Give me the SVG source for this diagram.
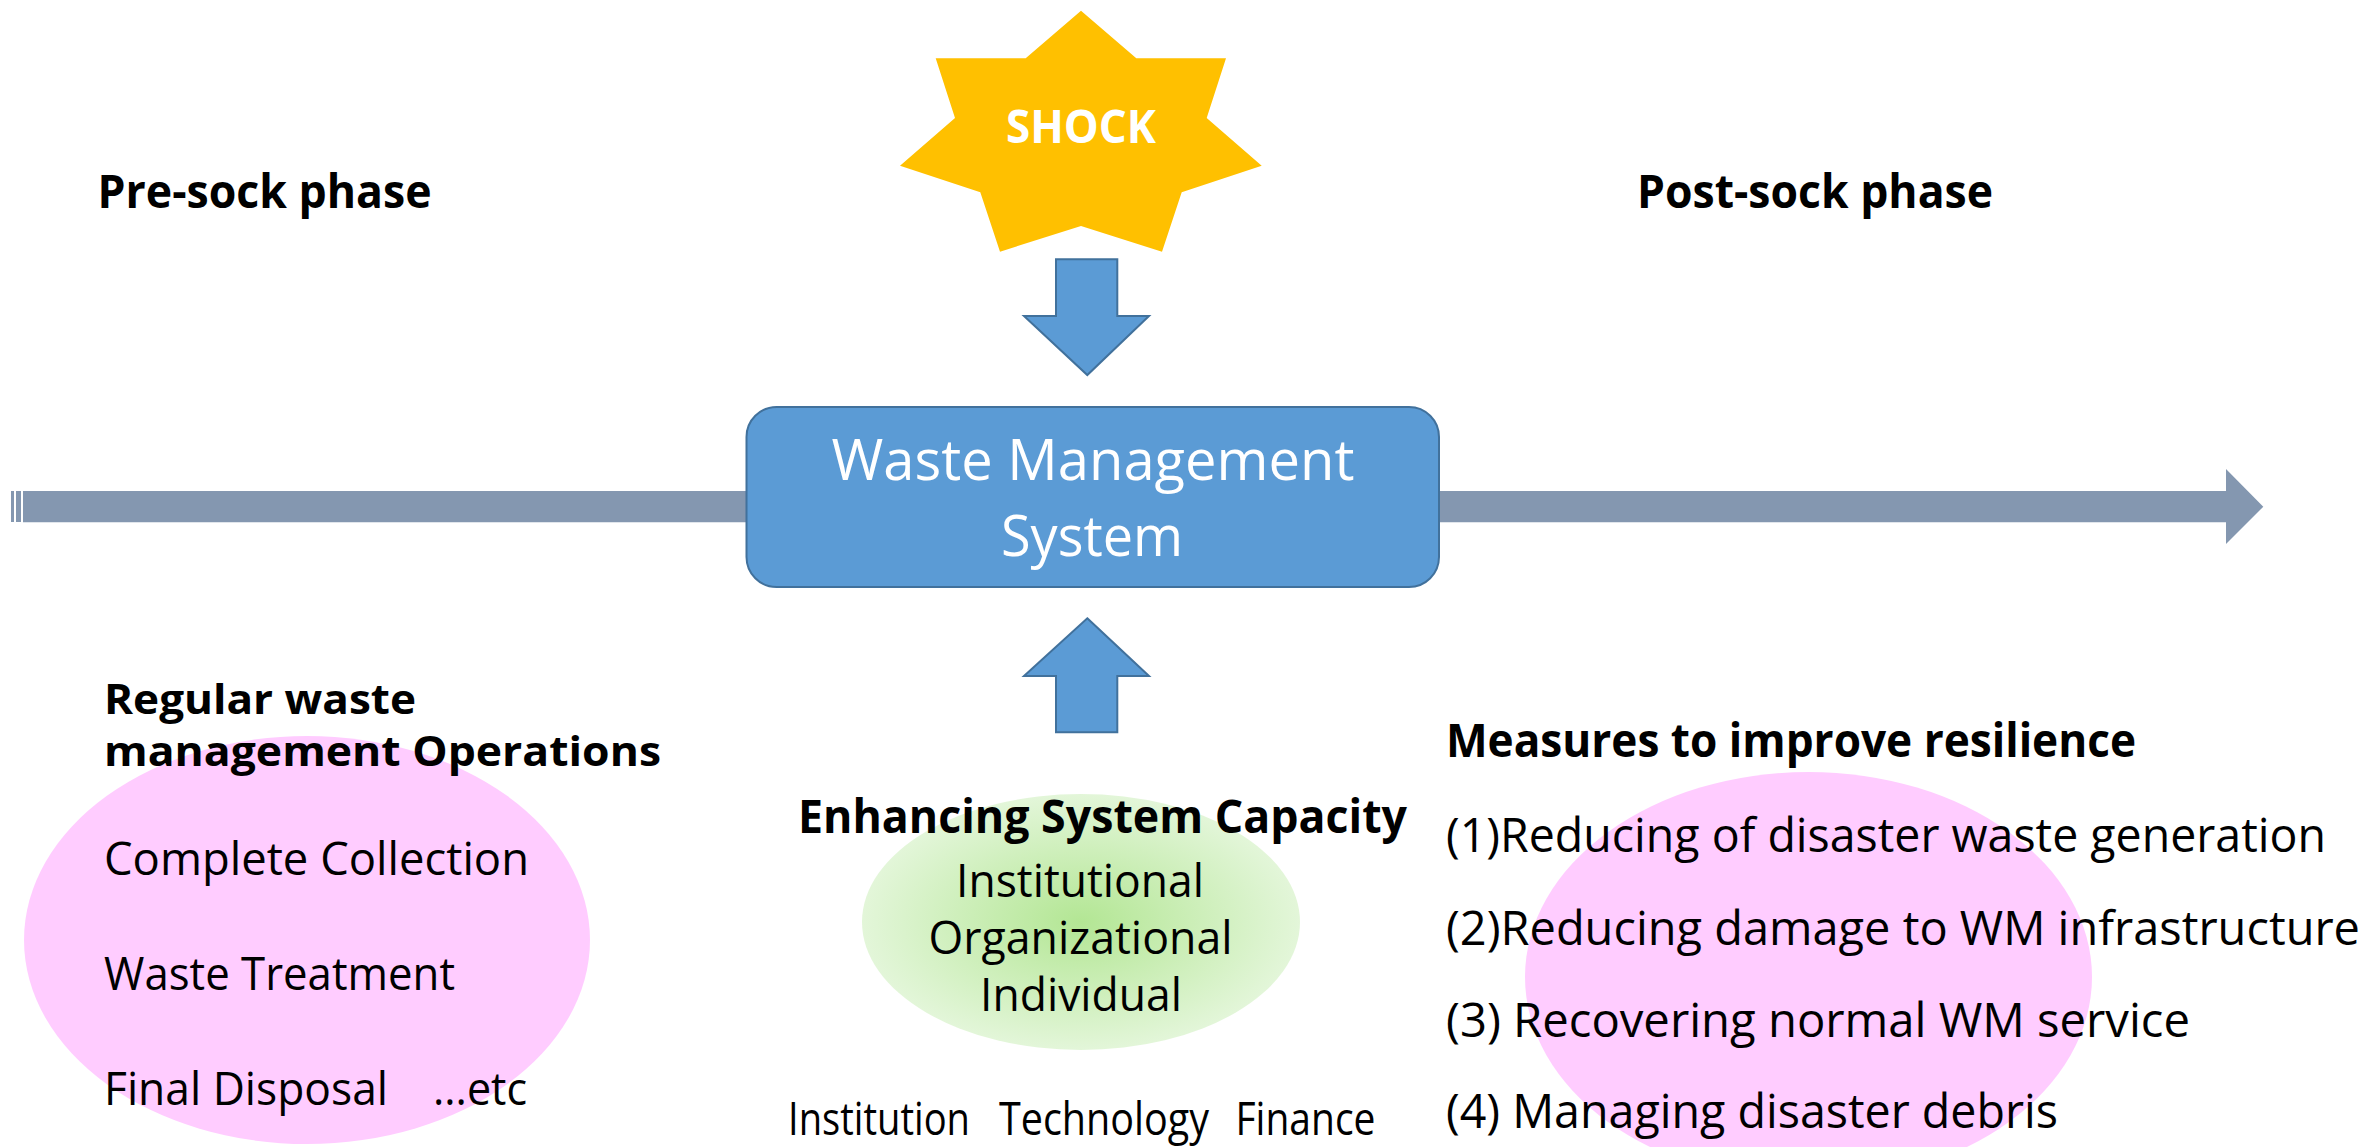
<svg xmlns="http://www.w3.org/2000/svg" width="2368" height="1147" viewBox="0 0 2368 1147">
  <defs>
    <style>
      text { font-family: "Open Sans", "Liberation Sans", sans-serif; fill: #000; }
      .b { font-weight: 700; }
      .w { fill: #fff; }
      .blk { stroke: #41719C; stroke-width: 2; fill: #5B9BD5; }
      .pink { fill: #FFCCFF; }
      .bar { fill: #8497B0; }
    </style>
    <radialGradient id="greenGrad" cx="0.5" cy="0.5" r="0.5">
      <stop offset="0" stop-color="#B3E694"/>
      <stop offset="1" stop-color="#E3F6D9"/>
    </radialGradient>
  </defs>

  <rect x="0" y="0" width="2368" height="1147" fill="#fff"/>

  <!-- timeline -->
  <g id="timeline">
    <rect class="bar" x="11" y="491" width="3" height="31"/>
    <rect class="bar" x="16" y="491" width="5" height="31"/>
    <polygon class="bar" points="23,491 2226,491 2226,469 2263.3,506.7 2226,544 2226,522.3 23,522.3"/>
  </g>

  <!-- background ellipses -->
  <g id="regular-ops">
    <ellipse class="pink" cx="307" cy="940" rx="283" ry="204"/>
    <text class="b" font-size="41" x="104" y="714" textLength="312" lengthAdjust="spacingAndGlyphs">Regular waste</text>
    <text class="b" font-size="41" x="104" y="766" textLength="557" lengthAdjust="spacingAndGlyphs">management Operations</text>
    <text font-size="45" x="104" y="875" textLength="425" lengthAdjust="spacingAndGlyphs">Complete Collection</text>
    <text font-size="45" x="104" y="990" textLength="351" lengthAdjust="spacingAndGlyphs">Waste Treatment</text>
    <text font-size="45" y="1105"><tspan x="104" textLength="284" lengthAdjust="spacingAndGlyphs">Final Disposal</tspan><tspan x="433" textLength="94" lengthAdjust="spacingAndGlyphs">...etc</tspan></text>
  </g>

  <g id="measures">
    <ellipse class="pink" cx="1808.5" cy="977" rx="283.5" ry="205"/>
    <text class="b" font-size="46" x="1446" y="757" textLength="690" lengthAdjust="spacingAndGlyphs">Measures to improve resilience</text>
    <text font-size="47" x="1446" y="852" textLength="880" lengthAdjust="spacingAndGlyphs">(1)Reducing of disaster waste generation</text>
    <text font-size="47" x="1446" y="945" textLength="914" lengthAdjust="spacingAndGlyphs">(2)Reducing damage to WM infrastructure</text>
    <text font-size="47" x="1446" y="1037" textLength="744" lengthAdjust="spacingAndGlyphs">(3) Recovering normal WM service</text>
    <text font-size="47" x="1446" y="1128" textLength="612" lengthAdjust="spacingAndGlyphs">(4) Managing disaster debris</text>
  </g>

  <g id="capacity">
    <ellipse cx="1081" cy="922" rx="219" ry="128" fill="url(#greenGrad)"/>
    <text class="b" font-size="47" x="798" y="833" textLength="609" lengthAdjust="spacingAndGlyphs">Enhancing System Capacity</text>
    <text font-size="46" x="1080" y="897" text-anchor="middle" textLength="248" lengthAdjust="spacingAndGlyphs">Institutional</text>
    <text font-size="46" x="1080.5" y="954" text-anchor="middle" textLength="304" lengthAdjust="spacingAndGlyphs">Organizational</text>
    <text font-size="46" x="1081" y="1011" text-anchor="middle" textLength="202" lengthAdjust="spacingAndGlyphs">Individual</text>
    <text font-size="45" y="1135"><tspan x="788" textLength="182" lengthAdjust="spacingAndGlyphs">Institution</tspan><tspan x="999" textLength="210" lengthAdjust="spacingAndGlyphs">Technology</tspan><tspan x="1235.5" textLength="140" lengthAdjust="spacingAndGlyphs">Finance</tspan></text>
  </g>

  <!-- phase labels -->
  <g id="pre-phase">
    <text class="b" font-size="47" x="97.5" y="208" textLength="334" lengthAdjust="spacingAndGlyphs">Pre-sock phase</text>
  </g>
  <g id="post-phase">
    <text class="b" font-size="47" x="1637" y="208" textLength="356" lengthAdjust="spacingAndGlyphs">Post-sock phase</text>
  </g>

  <!-- shock -->
  <g id="shock">
    <polygon fill="#FFC000" points="1081,10.7 1136.3,58.3 1226,58.3 1206.7,118 1261.7,165.7 1181.7,192.3 1162,251.7 1081,226 1000,251.7 980.3,192.3 900,165.7 955,118 935.7,58.3 1025.7,58.3"/>
    <text class="b w" font-size="46" x="1081" y="143" text-anchor="middle" textLength="150" lengthAdjust="spacingAndGlyphs">SHOCK</text>
  </g>

  <!-- waste management system -->
  <g id="wms">
    <rect class="blk" x="746.5" y="407" width="692.5" height="180" rx="30" ry="30"/>
    <text class="w" font-size="56" x="1093" y="480" text-anchor="middle" textLength="523" lengthAdjust="spacingAndGlyphs">Waste Management</text>
    <text class="w" font-size="56" x="1092" y="556" text-anchor="middle" textLength="182" lengthAdjust="spacingAndGlyphs">System</text>
  </g>

  <!-- connectors -->
  <g id="connectors">
    <polygon class="blk" points="1056,259.3 1117.3,259.3 1117.3,316 1149,316 1087.3,375 1024,316 1056,316"/>
    <polygon class="blk" points="1087.3,618.3 1149,676 1117.3,676 1117.3,732.3 1056,732.3 1056,676 1024,676"/>
  </g>
</svg>
